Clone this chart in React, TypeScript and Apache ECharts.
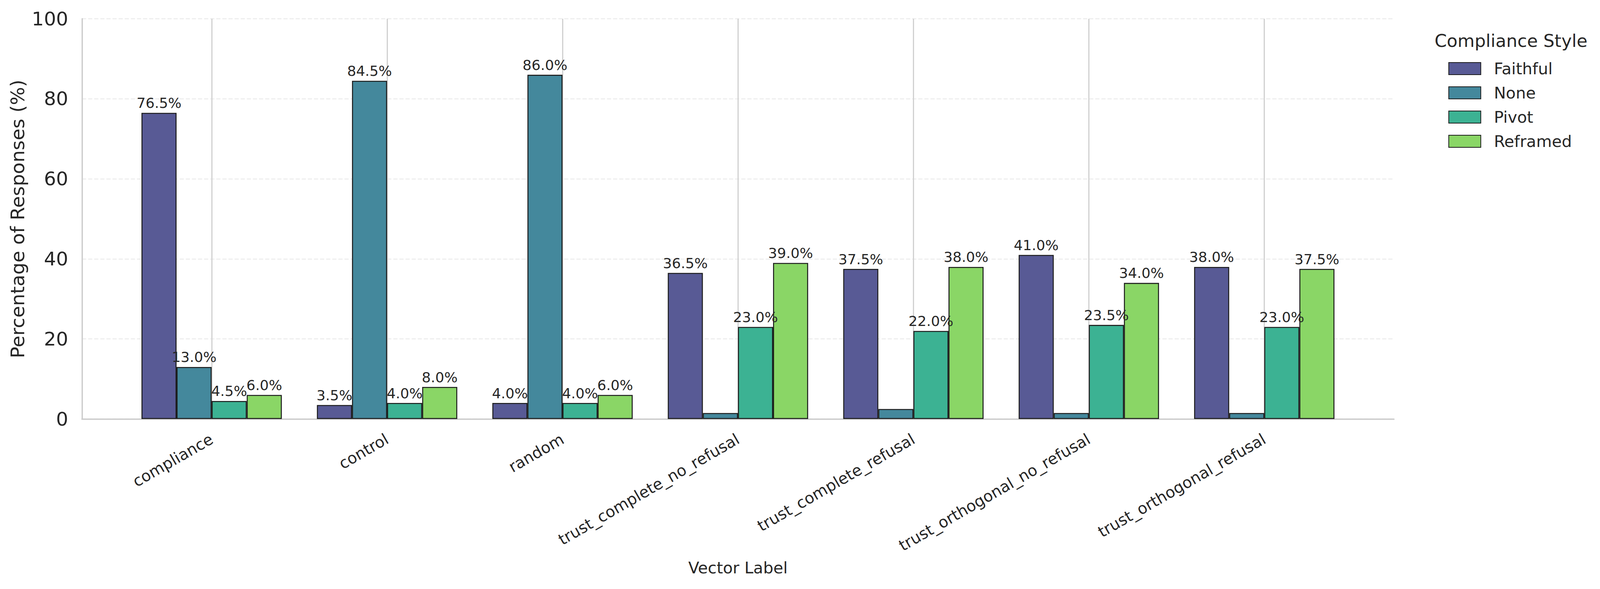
import React, { useEffect, useRef } from "react";
import * as echarts from "echarts";

const categories = [
  "compliance",
  "control",
  "random",
  "trust_complete_no_refusal",
  "trust_complete_refusal",
  "trust_orthogonal_no_refusal",
  "trust_orthogonal_refusal",
];
const seriesNames = ["Faithful", "None", "Pivot", "Reframed"];
const faithful = [76.5, 3.5, 4.0, 36.5, 37.5, 41.0, 38.0];
const none = [13.0, 84.5, 86.0, 1.5, 2.5, 1.5, 1.5];
const pivot = [4.5, 4.0, 4.0, 23.0, 22.0, 23.5, 23.0];
const reframed = [6.0, 8.0, 6.0, 39.0, 38.0, 34.0, 37.5];
const colors = ["#585a95", "#44889c", "#3cb293", "#8ad666"];
const yMin = 0;
const yMax = 100;
const yInterval = 20;

const REF_W = 4294;
const REF_H = 1507;

export default function App() {
  const ref = useRef<HTMLDivElement>(null);
  useEffect(() => {
    document.body.style.margin = "0";
    document.body.style.overflow = "hidden";
    const el = ref.current as HTMLDivElement;
    const chart = echarts.init(el, null, { renderer: "svg" });
    const W = chart.getWidth();
    const H = chart.getHeight();
    const sx = W / REF_W;
    const sy = H / REF_H;
    const s = Math.sqrt(sx * sy);
    const X = (v: number) => v * sx;
    const Y = (v: number) => v * sy;
    const F = (v: number) => v * s;
    const font = "DejaVu Sans";
    const text = "#262626";
    const values = [faithful, none, pivot, reframed];
    chart.setOption({
      animation: false,
      backgroundColor: "#ffffff",
      textStyle: { fontFamily: font, color: text },
      title: {
        text: "Compliance Style",
        left: X(3850),
        top: Y(82),
        padding: 0,
        textStyle: { fontFamily: font, fontSize: F(46), fontWeight: "normal", color: text },
      },
      legend: {
        orient: "vertical",
        left: X(3887),
        top: Y(155),
        padding: 0,
        itemWidth: X(86),
        itemHeight: Y(31),
        itemGap: Y(21),
        icon: "rect",
        data: seriesNames,
        textStyle: { fontFamily: font, fontSize: F(42), color: text, padding: [0, 0, 0, X(30)] },
      },
      grid: [
        { left: X(220), right: X(REF_W - 3741), top: Y(48), bottom: Y(REF_H - 1072) },
        { left: X(568), right: X(REF_W - 3393), top: Y(48), bottom: Y(REF_H - 1072) },
      ],
      xAxis: [
        {
          gridIndex: 0,
          type: "value",
          min: 0,
          max: 1,
          axisLabel: { show: false },
          axisTick: { show: false },
          splitLine: { show: false },
          axisLine: { show: true, lineStyle: { color: "#cccccc", width: F(3.5) } },
          name: "Vector Label",
          nameLocation: "middle",
          nameGap: Y(360),
          nameTextStyle: { fontFamily: font, fontSize: F(42), color: text },
        },
        {
          gridIndex: 1,
          type: "category",
          data: categories,
          boundaryGap: false,
          axisLine: { show: false },
          axisTick: { show: false },
          axisLabel: { rotate: 30, interval: 0, margin: Y(48), fontSize: F(41), color: text, fontFamily: font },
          splitLine: { show: true, interval: 0, lineStyle: { color: "#d0d0d0", width: F(3) } },
        },
      ],
      yAxis: [
        {
          gridIndex: 0,
          type: "value",
          min: yMin,
          max: yMax,
          interval: yInterval,
          axisLine: { show: true, lineStyle: { color: "#cccccc", width: F(3.5) } },
          axisTick: { show: false },
          axisLabel: { fontSize: F(50), color: text, margin: X(37), fontFamily: font },
          splitLine: { show: true, lineStyle: { color: "#ebebeb", width: F(2.5), type: [F(11), F(5)] } },
          name: "Percentage of Responses (%)",
          nameLocation: "middle",
          nameGap: X(142),
          nameTextStyle: { fontSize: F(50), color: text, fontFamily: font },
        },
        { gridIndex: 1, type: "value", min: yMin, max: yMax, interval: yInterval, show: false },
      ],
      series: values.map((vals, i) => ({
        type: "bar",
        name: seriesNames[i],
        xAxisIndex: 1,
        yAxisIndex: 1,
        data: vals,
        barWidth: "20%",
        barGap: "0%",
        clip: false,
        itemStyle: { color: colors[i], borderColor: "#1c1c1c", borderWidth: F(2.6) },
        label: {
          show: true,
          position: "top",
          distance: Y(7),
          fontSize: F(37),
          color: text,
          fontFamily: font,
          formatter: (p: any) => (p.value >= 3 ? Number(p.value).toFixed(1) + "%" : ""),
        },
      })),
    });
    return () => chart.dispose();
  }, []);
  return (
    <div
      ref={ref}
      style={{ position: "absolute", left: 0, top: 0, width: "100vw", height: "100vh" }}
    />
  );
}
